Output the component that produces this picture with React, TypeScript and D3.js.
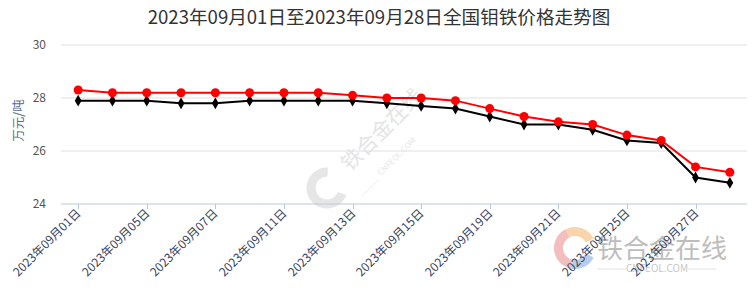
import React from "react";
import * as d3 from "d3";

const title = "2023年09月01日至2023年09月28日全国钼铁价格走势图";
const categories = [
  "2023年09月01日", "2023年09月04日", "2023年09月05日", "2023年09月06日",
  "2023年09月07日", "2023年09月08日", "2023年09月11日", "2023年09月12日",
  "2023年09月13日", "2023年09月14日", "2023年09月15日", "2023年09月18日",
  "2023年09月19日", "2023年09月20日", "2023年09月21日", "2023年09月22日",
  "2023年09月25日", "2023年09月26日", "2023年09月27日", "2023年09月28日",
];
const redSeries = [28.3, 28.2, 28.2, 28.2, 28.2, 28.2, 28.2, 28.2, 28.1, 28.0, 28.0, 27.9, 27.6, 27.3, 27.1, 27.0, 26.6, 26.4, 25.4, 25.2];
const blackSeries = [27.9, 27.9, 27.9, 27.8, 27.8, 27.9, 27.9, 27.9, 27.9, 27.8, 27.7, 27.6, 27.3, 27.0, 27.0, 26.8, 26.4, 26.3, 25.0, 24.8];
const yTicks = [24, 26, 28, 30];
const yName = "万元/吨";

const W = 754, H = 294;
const left = 61, right = 747, top = 45, bottom = 204;

export default function App() {
  const x = d3.scaleBand<string>().domain(categories).range([left, right]).paddingInner(0).paddingOuter(0);
  const cx = (c: string) => (x(c) as number) + x.bandwidth() / 2;
  const y = d3.scaleLinear().domain([24, 30]).range([bottom, top]);
  const line = d3.line<number>().x((_, i) => cx(categories[i])).y((v) => y(v));
  const labelIdx = categories.map((_, i) => i).filter((i) => i % 2 === 0);
  const font = "'Microsoft YaHei', 'Noto Sans CJK SC', sans-serif";
  const diamond = d3.symbol().type(d3.symbolDiamond).size(40)();

  return (
    <svg width={W} height={H} style={{ position: "absolute", left: 0, top: 0, fontFamily: font }}>
      <rect width={W} height={H} fill="#fff" />
      {/* center watermark */}
      <g opacity={0.45}>
        <g transform="translate(327,188)">
          <circle r={16} fill="none" stroke="#c8c8c8" strokeWidth={9} strokeDasharray="70 30" transform="rotate(20)" />
        </g>
        <text transform="translate(350,172) rotate(-45)" fontSize={21} fill="#c4c4c4">铁合金在线</text>
        <text transform="translate(381,176) rotate(-45)" fontSize={8} fill="#c8c8c8">CNFEOL.COM</text>
        <line x1={362} y1={196} x2={378} y2={180} stroke="#d4d4d4" strokeWidth={0.8} />
      </g>
      {/* bottom-right watermark */}
      <g opacity={0.55}>
        <g transform="translate(575,248)">
          <path d={d3.arc()({ innerRadius: 12, outerRadius: 21, startAngle: -Math.PI * 0.95, endAngle: -Math.PI * 0.15 }) as string} fill="#e88a8a" />
          <path d={d3.arc()({ innerRadius: 12, outerRadius: 21, startAngle: -Math.PI * 0.15, endAngle: Math.PI * 0.35 }) as string} fill="#f5b36b" />
          <path d={d3.arc()({ innerRadius: 12, outerRadius: 21, startAngle: Math.PI * 0.65, endAngle: Math.PI * 1.05 }) as string} fill="#7ea6e0" />
        </g>
        <text x={597} y={258} fontSize={26} fill="#888">铁合金在线</text>
        <text x={657} y={272} fontSize={10} fill="#999" textAnchor="middle">CNFEOL.COM</text>
        <line x1={597} y1={269} x2={627} y2={269} stroke="#bbb" strokeWidth={0.8} />
        <line x1={688} y1={269} x2={716} y2={269} stroke="#bbb" strokeWidth={0.8} />
      </g>

      <text x={379} y={24} textAnchor="middle" fontSize={18.6} fill="#333">{title}</text>

      {yTicks.map((t) => (
        <g key={t}>
          {t !== 24 && <line x1={left} x2={right} y1={y(t)} y2={y(t)} stroke="#e0e0e0" strokeWidth={1} />}
          <text x={46} y={y(t) + 4} textAnchor="end" fontSize={12} fill="#555">{t}</text>
        </g>
      ))}
      <text transform={`translate(23,${(top + bottom) / 2 - 4}) rotate(-90)`} textAnchor="middle" fontSize={12.5} fill="#5a6a90">{yName}</text>

      <line x1={left} x2={right} y1={bottom} y2={bottom} stroke="#b8c8dc" strokeWidth={1} />
      {labelIdx.map((i) => {
        const px = Math.round(cx(categories[i])) + 0.5;
        return (
          <g key={i}>
            <line x1={px} x2={px} y1={bottom} y2={bottom + 5} stroke="#b8c8dc" strokeWidth={1} />
            <text transform={`translate(${px + 3},${bottom + 10}) rotate(-45)`} textAnchor="end" fontSize={12} fill="#3a4560">{categories[i]}</text>
          </g>
        );
      })}

      <path d={line(blackSeries) as string} fill="none" stroke="#000" strokeWidth={2} />
      {blackSeries.map((v, i) => (
        <path key={i} d={diamond as string} transform={`translate(${cx(categories[i])},${y(v)})`} fill="#000" />
      ))}
      <path d={line(redSeries) as string} fill="none" stroke="#ff0000" strokeWidth={2} />
      {redSeries.map((v, i) => (
        <circle key={i} cx={cx(categories[i])} cy={y(v)} r={4.5} fill="#ff0000" />
      ))}
    </svg>
  );
}
